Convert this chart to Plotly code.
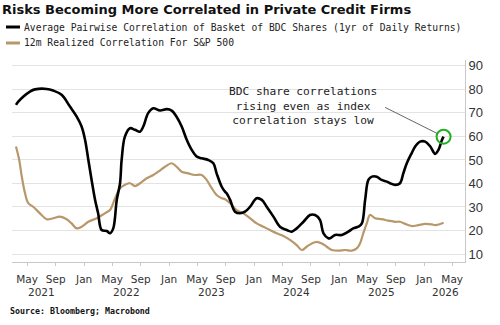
import plotly.graph_objects as go

# ---- data ----
bdc_dates = ["2021-03-14","2021-03-24","2021-04-14","2021-05-13","2021-06-04","2021-07-24","2021-08-21",
             "2021-09-26","2021-11-01","2021-11-30","2021-12-21","2022-01-05","2022-01-19","2022-02-02",
             "2022-02-17","2022-03-02","2022-03-17","2022-04-08","2022-04-22","2022-05-06","2022-05-21",
             "2022-06-04","2022-06-11","2022-06-25","2022-07-17","2022-08-07","2022-08-29","2022-09-12",
             "2022-10-03","2022-10-25","2022-11-23","2022-12-22","2023-01-12","2023-02-02","2023-02-24",
             "2023-03-18","2023-04-08","2023-04-30","2023-05-21","2023-06-18","2023-07-10","2023-07-24",
             "2023-08-15","2023-08-29","2023-09-05","2023-09-20","2023-10-11","2023-11-02","2023-11-23",
             "2023-12-15","2024-01-12","2024-02-03","2024-02-24","2024-03-24","2024-04-21","2024-05-20",
             "2024-06-11","2024-07-02","2024-07-31","2024-08-28","2024-09-19","2024-10-10","2024-10-25",
             "2024-11-15","2024-11-22","2024-12-14","2025-01-12","2025-02-09","2025-03-02","2025-03-24",
             "2025-04-08","2025-04-22","2025-05-06","2025-05-21","2025-06-11","2025-07-02","2025-07-24",
             "2025-08-07","2025-08-29","2025-09-19","2025-10-03","2025-10-18","2025-11-08","2025-11-23",
             "2025-12-14","2026-01-05","2026-01-27","2026-02-17","2026-03-03","2026-03-18","2026-03-25"]
bdc_values = [73.4,74.8,76.9,79.1,80.0,80.2,79.5,
              77.7,72.7,68.4,64.2,58.5,50.0,41.5,
              33.0,27.3,20.2,19.8,18.8,20.9,33.0,
              40.0,50.0,59.9,63.5,62.8,62.0,64.2,
              69.9,72.0,71.0,71.6,71.0,68.4,64.2,
              58.5,54.3,51.4,50.7,50.0,48.6,44.3,
              38.6,36.5,35.8,33.0,28.0,27.3,28.0,
              30.1,33.7,33.0,30.1,25.9,21.6,20.2,
              19.5,20.9,23.7,26.6,26.6,24.5,18.8,
              16.7,16.7,18.1,18.1,19.5,20.9,21.6,
              23.0,33.0,41.5,42.9,42.9,41.5,40.8,
              40.1,39.4,40.1,44.3,48.6,52.9,55.7,
              57.8,57.8,55.7,52.6,54.3,58.5,59.9]

spx_dates = ["2021-03-14","2021-03-28","2021-04-08","2021-04-22","2021-05-06","2021-05-27","2021-06-25",
             "2021-07-24","2021-08-21","2021-09-19","2021-10-18","2021-11-08","2021-11-30","2021-12-21",
             "2022-01-19","2022-02-24","2022-03-31","2022-04-22","2022-05-13","2022-06-04","2022-06-25",
             "2022-07-17","2022-08-07","2022-08-29","2022-09-27","2022-10-25","2022-11-15","2022-12-14",
             "2023-01-12","2023-02-02","2023-02-24","2023-03-24","2023-04-22","2023-05-21","2023-06-11",
             "2023-07-03","2023-07-24","2023-08-15","2023-08-29","2023-09-20","2023-10-18","2023-11-16",
             "2023-12-15","2024-01-12","2024-02-10","2024-03-09","2024-04-07","2024-05-06","2024-06-03",
             "2024-07-02","2024-07-24","2024-08-14","2024-09-05","2024-09-26","2024-10-18","2024-11-08",
             "2024-11-30","2024-12-28","2025-01-26","2025-02-23","2025-03-17","2025-03-31","2025-04-14",
             "2025-04-29","2025-05-13","2025-06-04","2025-07-02","2025-07-31","2025-08-29","2025-09-19",
             "2025-10-11","2025-11-08","2025-12-07","2026-01-05","2026-02-02","2026-02-19","2026-03-25"]
spx_values = [55.7,50.0,42.9,35.8,31.6,30.1,27.3,
              24.8,25.2,25.9,24.8,23.0,20.9,21.6,
              23.7,25.2,27.3,28.7,33.5,38.0,39.4,
              40.1,38.9,40.1,42.2,43.6,45.0,47.1,
              48.6,47.1,45.0,44.3,43.6,43.6,41.5,
              38.0,35.1,33.7,33.3,31.6,28.7,27.3,
              25.2,23.0,21.6,20.2,18.8,17.7,16.0,
              13.8,11.7,13.1,14.5,15.2,14.5,13.1,
              11.7,11.4,11.7,11.4,12.4,14.5,18.8,
              23.0,26.6,25.2,24.8,24.2,23.7,23.7,
              22.8,21.9,22.3,22.8,22.6,22.3,23.3]

month_ticks = ["2021-05-01","2021-09-01","2022-01-01","2022-05-01","2022-09-01","2023-01-01",
               "2023-05-01","2023-09-01","2024-01-01","2024-05-01","2024-09-01","2025-01-01",
               "2025-05-01","2025-09-01","2026-01-01","2026-05-01"]
month_labels = ["May","Sep","Jan","May","Sep","Jan","May","Sep","Jan","May","Sep","Jan",
                "May","Sep","Jan","May"]
year_label_pos = ["2021-07-01","2022-07-01","2023-07-01","2024-07-01","2025-07-01","2026-04-01"]
year_labels = ["2021","2022","2023","2024","2025","2026"]
y_ticks = [10,20,30,40,50,60,70,80,90]

title = "Risks Becoming More Correlated in Private Credit Firms"
name_bdc = "Average Pairwise Correlation of Basket of BDC Shares (1yr of Daily Returns)"
name_spx = "12m Realized Correlation For S&P 500"
note = "BDC share correlations<br>rising even as index<br>correlation stays low"
source = "Source: Bloomberg; Macrobond"

BLACK = "#000000"
TAN = "#b8976a"
GREEN = "#22b022"

fig = go.Figure()
fig.add_trace(go.Scatter(x=spx_dates, y=spx_values, mode="lines", name=name_spx,
                         line=dict(color=TAN, width=2.2), line_shape="spline"))
fig.add_trace(go.Scatter(x=bdc_dates, y=bdc_values, mode="lines", name=name_bdc,
                         line=dict(color=BLACK, width=2.6), line_shape="spline"))
fig.add_trace(go.Scatter(x=[bdc_dates[-1]], y=[bdc_values[-1]], mode="markers",
                         marker=dict(symbol="circle-open", size=14, color=GREEN,
                                     line=dict(width=2, color=GREEN)),
                         showlegend=False))

fig.update_layout(
    width=500, height=325,
    margin=dict(l=12, r=35, t=60, b=63),
    paper_bgcolor="white", plot_bgcolor="white",
    showlegend=False,
    xaxis=dict(type="date", range=["2021-02-25", "2026-06-25"],
               tickvals=month_ticks, ticktext=month_labels,
               tickfont=dict(family="DejaVu Sans", size=10.5, color="#333333"),
               ticklabelstandoff=4,
               showgrid=False, zeroline=False,
               showline=True, linecolor="#c8c8c8", linewidth=1,
               ticks="outside", ticklen=3, tickcolor="#c8c8c8"),
    yaxis=dict(side="right", range=[6.6, 92.5], tickvals=y_ticks,
               tickfont=dict(family="Liberation Sans", size=13, color="#333333"),
               showgrid=True, gridcolor="#e3e3e3", gridwidth=1, zeroline=False,
               showline=True, linecolor="#c8c8c8", linewidth=1, ticks=""),
)

# title
fig.add_annotation(text="<b>" + title + "</b>", xref="paper", yref="paper",
                   x=-12/453, y=1 + (60-9)/202, xanchor="left", yanchor="middle",
                   showarrow=False, font=dict(family="DejaVu Sans", size=13, color="#111111"))
# legend
for yy, col, nm in [(27, BLACK, name_bdc), (43, TAN, name_spx)]:
    py = 1 + (60 - yy)/202
    fig.add_shape(type="line", xref="paper", yref="paper",
                  x0=-6/453, x1=8/453, y0=py, y1=py,
                  line=dict(color=col, width=3))
    fig.add_annotation(text=nm, xref="paper", yref="paper", x=10/453, y=py,
                       xanchor="left", yanchor="middle", showarrow=False,
                       font=dict(family="DejaVu Sans Mono", size=9.7, color="#222222"))
# year labels
for xp, lab in zip(year_label_pos, year_labels):
    fig.add_annotation(text=lab, x=xp, xref="x", yref="paper", y=-(292-262)/202,
                       xanchor="center", yanchor="middle", showarrow=False,
                       font=dict(family="DejaVu Sans", size=10.5, color="#333333"))
# note
fig.add_annotation(text=note, xref="paper", yref="paper", x=(303-12)/453, y=1 - (106-60)/202,
                   xanchor="center", yanchor="middle", showarrow=False, align="center",
                   font=dict(family="DejaVu Sans Mono", size=11.2, color="#222222"))
fig.add_annotation(text="", x=bdc_dates[-1], y=bdc_values[-1], xref="x", yref="y",
                   ax=-60, ay=-30, showarrow=True, arrowhead=0, arrowwidth=1,
                   arrowcolor="#666666", standoff=7)
# source
fig.add_annotation(text="<b>" + source + "</b>", xref="paper", yref="paper",
                   x=-4/453, y=-(311-262)/202, xanchor="left", yanchor="middle",
                   showarrow=False, font=dict(family="DejaVu Sans Mono", size=8.3, color="#111111"))

fig.write_html("out.html")
